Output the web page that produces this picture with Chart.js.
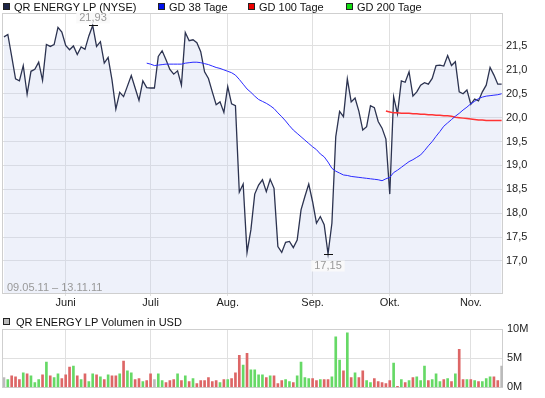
<!DOCTYPE html>
<html lang="de">
<head>
<meta charset="utf-8">
<title>QR ENERGY LP</title>
<script src="https://cdn.jsdelivr.net/npm/chart.js@4.4.1/dist/chart.umd.min.js"></script>
<style>
  html, body { margin: 0; padding: 0; background: #fff; }
  #wrap { position: relative; width: 545px; height: 398px; overflow: hidden;
          font-family: "Liberation Sans", Arial, sans-serif; font-size: 11px; }
  canvas { position: absolute; left: 0; }
  #priceChart { top: 0; }
  #volumeChart { top: 315px; }
  .legend { position: absolute; left: 0; width: 545px; height: 12px; line-height: 12px; color: #111; white-space: nowrap; }
  .legend span { position: absolute; top: 0; }
  .legend i { position: absolute; top: 2px; width: 5px; height: 5px; border: 1px solid #222; }
  #range { position: absolute; left: 7px; top: 281px; color: #999; line-height: 12px; white-space: nowrap; }
</style>
</head>
<body>
<div id="wrap">
  <canvas id="priceChart" width="545" height="310"></canvas>
  <canvas id="volumeChart" width="545" height="83"></canvas>
  <div class="legend" style="top:1px">
    <i style="left:3px;background:#1d2547"></i><span style="left:14px">QR ENERGY LP (NYSE)</span>
    <i style="left:158px;background:#0011ee"></i><span style="left:169px">GD 38 Tage</span>
    <i style="left:248px;background:#ee0000"></i><span style="left:259px">GD 100 Tage</span>
    <i style="left:346px;background:#11dd11"></i><span style="left:357px">GD 200 Tage</span>
  </div>
  <div class="legend" style="top:316px">
    <i style="left:3px;background:#bbbbbb"></i><span style="left:16px">QR ENERGY LP Volumen in USD</span>
  </div>
  <div id="range">09.05.11 – 13.11.11</div>
</div>
<script>
// closing prices, one per trading day (09.05.11 - 11.11.11)
const price = [
  21.69, 21.74, 21.28, 20.81, 20.77, 21.09, 20.49, 20.97, 21.01, 21.16,
  20.78, 21.53, 21.49, 21.53, 21.89, 21.79, 21.51, 21.42, 21.50, 21.32,
  21.48, 21.43, 21.71, 21.93, 21.49, 21.59, 21.14, 21.26, 20.79, 20.18,
  20.53, 20.44, 20.66, 20.88, 20.62, 20.36, 20.77, 20.63, 20.62, 20.62,
  21.28, 21.40, 21.21, 21.01, 20.91, 20.98, 20.68, 21.78, 21.61, 21.63,
  21.57, 21.38, 20.96, 20.82, 20.54, 20.27, 20.33, 20.11, 20.65, 20.29,
  20.25, 18.44, 18.61, 17.18, 17.65, 18.40, 18.59, 18.70, 18.45, 18.71,
  18.52, 17.30, 17.18, 17.39, 17.41, 17.28, 17.44, 18.07, 18.35, 18.61,
  18.24, 17.79, 17.93, 17.76, 17.15, 17.79, 19.60, 20.13, 20.02, 20.81,
  20.33, 20.41, 20.13, 19.74, 19.81, 20.25, 20.21, 19.92, 19.78, 19.55,
  18.40, 20.44, 20.08, 20.77, 20.74, 20.96, 20.45, 20.54, 20.68, 20.73,
  20.70, 20.82, 21.09, 21.10, 21.08, 21.30, 21.09, 21.17, 20.54, 20.50,
  20.58, 20.28, 20.39, 20.35, 20.54, 20.68, 21.05, 20.89, 20.70, 20.70
];

// GD 38 starts at day 37
const ma38Start = 37;
const ma38 = [
  21.14, 21.12, 21.09, 21.10, 21.11, 21.12, 21.12, 21.12, 21.12, 21.12,
  21.14, 21.15, 21.16, 21.16, 21.15, 21.13, 21.11, 21.08, 21.05, 21.03,
  21.00, 20.97, 20.94, 20.89, 20.80, 20.70, 20.60, 20.53, 20.45, 20.38,
  20.34, 20.30, 20.25, 20.19, 20.10, 20.02, 19.93, 19.83, 19.74, 19.67,
  19.60, 19.53, 19.46, 19.39, 19.33, 19.24, 19.18, 19.07, 18.94, 18.88,
  18.84, 18.80, 18.79, 18.77, 18.76, 18.75, 18.74, 18.73, 18.72, 18.71,
  18.70, 18.68, 18.72, 18.75, 18.85, 18.90, 18.96, 19.02, 19.08, 19.12,
  19.17, 19.22, 19.31, 19.41, 19.50, 19.61, 19.71, 19.82, 19.89, 19.96,
  20.03, 20.09, 20.16, 20.22, 20.29, 20.34, 20.40, 20.43, 20.45, 20.46,
  20.47, 20.48, 20.50
];

// GD 100 starts at day 99
const ma100Start = 99;
const ma100 = [
  20.14, 20.12, 20.10, 20.10, 20.09, 20.09, 20.09, 20.08, 20.08, 20.07,
  20.07, 20.06, 20.06, 20.05, 20.05, 20.04, 20.04, 20.03, 20.01, 20.00,
  19.99, 19.98, 19.97, 19.96, 19.95, 19.95, 19.94, 19.94, 19.94, 19.94, 19.94
];

// volume in millions USD
const volume = [
  1.67, 1.33, 2.00, 1.83, 1.33, 2.50, 2.33, 2.00, 0.83, 1.33,
  2.17, 4.33, 2.00, 1.67, 2.33, 1.50, 2.17, 3.50, 3.67, 2.00,
  1.33, 2.33, 1.00, 2.33, 2.17, 1.83, 1.33, 2.17, 2.00, 2.00,
  2.33, 4.50, 2.83, 2.50, 1.33, 1.50, 1.00, 1.17, 2.33, 1.33,
  2.33, 1.17, 0.83, 1.17, 1.33, 2.33, 1.17, 2.00, 1.00, 1.50,
  0.67, 1.17, 1.17, 1.67, 1.00, 1.17, 0.83, 1.33, 1.33, 1.50,
  2.50, 5.50, 3.83, 5.83, 3.00, 3.00, 2.17, 2.17, 1.67, 2.00,
  2.00, 0.67, 1.17, 1.33, 1.00, 0.83, 2.00, 4.33, 1.67, 1.50,
  1.50, 1.17, 1.33, 1.33, 1.33, 1.83, 8.67, 4.67, 2.83, 9.33,
  1.67, 2.50, 1.67, 2.83, 1.17, 0.83, 1.50, 1.00, 0.83, 0.67,
  1.17, 4.17, 0.17, 1.33, 0.83, 1.17, 1.67, 1.83, 1.17, 3.67,
  1.17, 1.33, 2.33, 1.00, 1.33, 1.50, 1.00, 2.33, 6.50, 1.33,
  1.33, 1.33, 1.17, 1.00, 1.00, 1.50, 1.83, 1.83, 1.17, 3.67
];

// first trading day of each month
const monthTicks = [16, 38, 58, 80, 100, 121];
const monthLabels = ["Juni", "Juli", "Aug.", "Sep.", "Okt.", "Nov."];
const priceTicks = [17, 17.5, 18, 18.5, 19, 19.5, 20, 20.5, 21, 21.5];
const volumeTicks = [0, 5, 10];

Chart.defaults.font.family = '"Liberation Sans", Arial, sans-serif';
Chart.defaults.font.size = 11;
Chart.defaults.color = "#222";

const GRID = "#e0e0e0";
const xMin = -0.25;
const xMax = 129.35;

const frame = {
  id: "frame",
  beforeDatasetsDraw(chart) {
    const { ctx, chartArea: a } = chart;
    ctx.save();
    ctx.strokeStyle = "#cfcfcf";
    ctx.lineWidth = 1;
    ctx.strokeRect(Math.round(a.left) - 0.5, Math.round(a.top) + 0.5,
      Math.round(a.right - a.left), Math.round(a.bottom - a.top));
    ctx.restore();
  }
};

const extremaLabels = {
  id: "extremaLabels",
  afterDatasetsDraw(chart) {
    const { ctx, scales } = chart;
    const hi = price.indexOf(Math.max(...price));
    const lo = price.indexOf(Math.min(...price));
    ctx.save();
    ctx.font = '11px "Liberation Sans", Arial, sans-serif';
    ctx.textAlign = "center";
    ctx.textBaseline = "middle";
    [[hi, -8], [lo, 11]].forEach(([i, off]) => {
      const px = Math.round(scales.x.getPixelForValue(i));
      const py = Math.round(scales.y.getPixelForValue(price[i])) + 0.5;
      const txt = price[i].toFixed(2).replace(".", ",");
      const w = ctx.measureText(txt).width;
      const ty = py + off;
      ctx.fillStyle = "rgba(250,250,250,0.9)";
      ctx.fillRect(px - w / 2 - 3, ty - 5, w + 6, 11);
      ctx.fillStyle = "#999";
      ctx.fillText(txt, px, ty);
      ctx.strokeStyle = "#111";
      ctx.lineWidth = 1;
      ctx.beginPath();
      ctx.moveTo(px - 4, py);
      ctx.lineTo(px + 5, py);
      ctx.stroke();
    });
    ctx.restore();
  }
};

const monthAxis = (extra) => Object.assign({
  type: "linear",
  min: xMin,
  max: xMax,
  offset: false,
  afterBuildTicks: (s) => { s.ticks = monthTicks.map((v) => ({ value: v })); },
  grid: { color: GRID, offset: false },
  border: { display: false }
}, extra);

new Chart(document.getElementById("priceChart"), {
  type: "line",
  data: {
    datasets: [
      {
        label: "QR ENERGY LP (NYSE)",
        data: price.map((v, i) => ({ x: i, y: v })),
        borderColor: "#2c3350",
        borderWidth: 1.3,
        backgroundColor: "rgba(200,210,240,0.3)",
        fill: "start",
        pointRadius: 0,
        tension: 0,
        order: 2
      },
      {
        label: "GD 38 Tage",
        data: ma38.map((v, k) => ({ x: ma38Start + k, y: v })),
        borderColor: "#2a2aff",
        borderWidth: 1,
        pointRadius: 0,
        fill: false,
        order: 1
      },
      {
        label: "GD 100 Tage",
        data: ma100.map((v, k) => ({ x: ma100Start + k, y: v })),
        borderColor: "#ff3333",
        borderWidth: 1.5,
        pointRadius: 0,
        fill: false,
        order: 1
      }
    ]
  },
  options: {
    responsive: false,
    animation: false,
    layout: { padding: { left: 3, top: 13, right: 0, bottom: 0 } },
    plugins: {
      legend: { display: false },
      tooltip: { enabled: false },
      filler: { drawTime: "beforeDatasetsDraw" }
    },
    scales: {
      x: monthAxis({
        afterFit: (s) => { s.height = 17; },
        grid: { color: GRID, offset: false, tickLength: 3 },
        ticks: {
          padding: 0,
          maxRotation: 0,
          autoSkip: false,
          callback: (v) => monthLabels[monthTicks.indexOf(v)]
        }
      }),
      y: {
        position: "right",
        min: 16.33,
        max: 22.19,
        afterBuildTicks: (s) => { s.ticks = priceTicks.map((v) => ({ value: v })); },
        afterFit: (s) => { s.width = 42; },
        grid: { color: GRID, drawTicks: false },
        border: { display: false },
        ticks: { padding: 3, callback: (v) => v.toFixed(1).replace(".", ",") }
      }
    }
  },
  plugins: [frame, extremaLabels]
});

// bar colour from the day's move
const barColors = volume.map((_, i) => {
  if (i === 0 || price[i] === price[i - 1]) return "#bbbbbb";
  return price[i] > price[i - 1] ? "#66d966" : "#dd6666";
});

new Chart(document.getElementById("volumeChart"), {
  type: "bar",
  data: {
    datasets: [{
      label: "QR ENERGY LP Volumen in USD",
      data: volume.map((v, i) => ({ x: i, y: v })),
      backgroundColor: barColors,
      borderWidth: 0,
      barThickness: 2
    }]
  },
  options: {
    responsive: false,
    animation: false,
    layout: { padding: { left: 3, top: 14, right: 0, bottom: 9 } },
    plugins: { legend: { display: false }, tooltip: { enabled: false } },
    scales: {
      x: monthAxis({
        afterFit: (s) => { s.height = 0; },
        grid: { color: GRID, offset: false, drawTicks: false },
        ticks: { display: false }
      }),
      y: {
        position: "right",
        min: 0,
        max: 10,
        afterBuildTicks: (s) => { s.ticks = volumeTicks.map((v) => ({ value: v })); },
        afterFit: (s) => { s.width = 42; },
        grid: { color: GRID, drawTicks: false },
        border: { display: false },
        ticks: { padding: 4, callback: (v) => v + "M" }
      }
    }
  },
  plugins: [frame]
});
</script>
</body>
</html>
